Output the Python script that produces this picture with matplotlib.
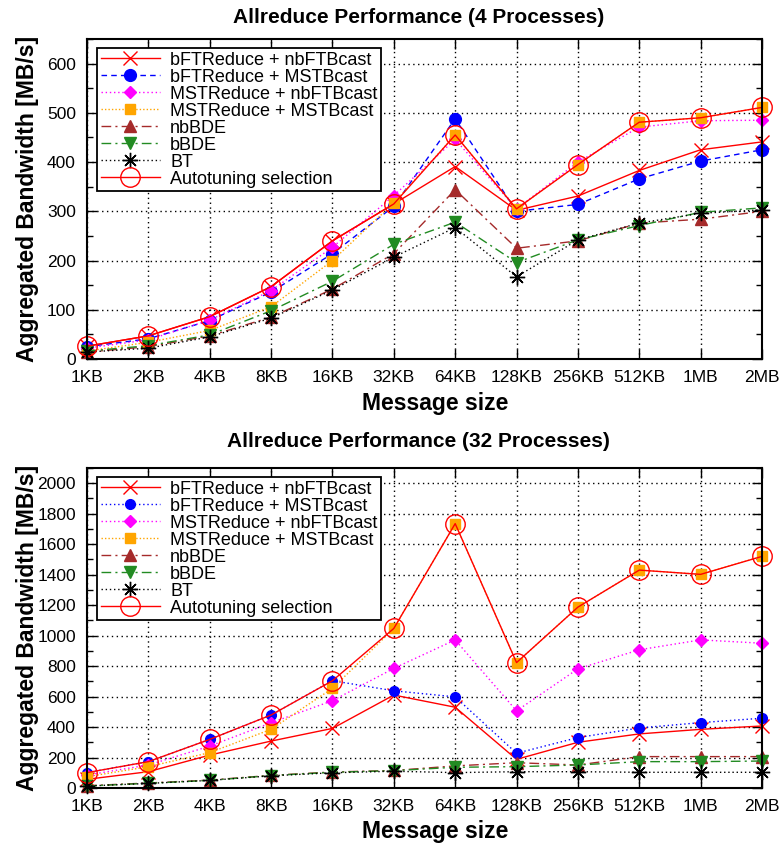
import matplotlib
matplotlib.use("Agg")
import matplotlib.pyplot as plt
from matplotlib.ticker import MultipleLocator, FixedLocator

plt.rcParams['font.family'] = ['Liberation Sans', 'DejaVu Sans']

sizes = ['1KB', '2KB', '4KB', '8KB', '16KB', '32KB', '64KB', '128KB', '256KB', '512KB', '1MB', '2MB']

# 4 processes
bft_nbft_4 = [26, 47, 86, 147, 240, 315, 391, 302, 331, 383, 425, 441]
bft_mst_4 = [25, 41, 78, 136, 214, 310, 488, 300, 314, 366, 402, 425]
mst_nbft_4 = [22, 39, 79, 139, 227, 332, 446, 305, 400, 471, 484, 485]
mst_mst_4 = [16, 34, 58, 106, 200, 317, 455, 305, 395, 481, 490, 511]
nbbde_4 = [14, 25, 47, 85, 142, 214, 344, 225, 240, 276, 284, 300]
bbde_4 = [16, 27, 49, 98, 158, 233, 278, 196, 242, 271, 298, 307]
bt_4 = [14, 22, 45, 83, 140, 207, 267, 167, 242, 276, 296, 303]
auto_4 = [26, 47, 86, 147, 240, 315, 455, 305, 395, 481, 490, 511]

# 32 processes
bft_nbft_32 = [57, 107, 216, 308, 391, 610, 530, 188, 300, 355, 385, 407]
bft_mst_32 = [101, 173, 319, 479, 704, 638, 598, 228, 331, 394, 429, 458]
mst_nbft_32 = [85, 151, 275, 428, 573, 785, 972, 506, 782, 907, 972, 950]
mst_mst_32 = [74, 140, 232, 385, 654, 1047, 1735, 823, 1187, 1430, 1402, 1520]
nbbde_32 = [15, 33, 52, 83, 105, 115, 145, 166, 151, 206, 206, 206]
bbde_32 = [13, 31, 50, 82, 103, 114, 136, 140, 151, 173, 173, 177]
bt_32 = [13, 30, 50, 80, 100, 110, 101, 107, 107, 103, 103, 103]
auto_32 = [101, 173, 319, 479, 704, 1047, 1735, 823, 1187, 1430, 1402, 1520]

labels = ['bFTReduce + nbFTBcast', 'bFTReduce + MSTBcast', 'MSTReduce + nbFTBcast',
          'MSTReduce + MSTBcast', 'nbBDE', 'bBDE', 'BT', 'Autotuning selection']

W, H = 780, 848
fig = plt.figure(figsize=(W / 100, H / 100), dpi=100)

def make_axes(top_px, bottom_px):
    return fig.add_axes([87 / W, 1 - bottom_px / H, 675 / W, (bottom_px - top_px) / H])

def draw(ax, series, blue_dash, ymax, major, minor):
    x = list(range(len(sizes)))
    styles = [
        dict(color='#ff0000', ls='-', marker='x', ms=10, mew=1.0),
        dict(color='#0000ff', dashes=blue_dash, marker='o', ms=8.5 if blue_dash[0] > 2 else 7),
        dict(color='#ff00ff', dashes=(1, 2), marker='D', ms=6.5),
        dict(color='#ffa500', dashes=(1, 1.5), marker='s', ms=7.5),
        dict(color='#a52a2a', dashes=(7, 3, 1.5, 3), marker='^', ms=8),
        dict(color='#228b22', dashes=(7, 3, 1.5, 3), marker='v', ms=8),
        dict(color='#000000', dashes=(1, 2), marker=(8, 2, 0), ms=11, mew=1.0),
        dict(color='#ff0000', ls='-', marker='o', ms=14, mfc='none', mec='#ff0000', mew=1.0),
    ]
    for vals, st, lab in zip(series, styles, labels):
        ax.plot(x, vals, lw=1.0, label=lab, clip_on=False, **st)
    ax.set_xlim(0, len(sizes) - 1)
    ax.set_ylim(0, ymax)
    ax.xaxis.set_major_locator(FixedLocator(x))
    ax.set_xticklabels(sizes)
    ax.yaxis.set_major_locator(MultipleLocator(major))
    ax.yaxis.set_minor_locator(MultipleLocator(minor))
    ax.grid(True, which='major', color='black', ls=(0, (1, 2.5)), lw=1.0)
    ax.tick_params(which='both', direction='in', top=True, right=True, width=1.0,
                   labelsize=12.5, pad=8)
    ax.tick_params(which='major', length=7)
    ax.tick_params(which='minor', length=4)
    for s in ax.spines.values():
        s.set_linewidth(1.5)
    leg = ax.legend(loc='upper left', bbox_to_anchor=(10 / 675, 1 - 9 / 320),
                    borderaxespad=0, fontsize=13, labelspacing=0.0,
                    handlelength=3.3, handletextpad=0.55, borderpad=0.2,
                    fancybox=False, framealpha=1, edgecolor='black', numpoints=1)
    leg.get_frame().set_linewidth(1.3)

ax1 = make_axes(39, 359)
draw(ax1, [bft_nbft_4, bft_mst_4, mst_nbft_4, mst_mst_4, nbbde_4, bbde_4, bt_4, auto_4],
     (4, 3), 650, 100, 50)
ax2 = make_axes(468, 788)
draw(ax2, [bft_nbft_32, bft_mst_32, mst_nbft_32, mst_mst_32, nbbde_32, bbde_32, bt_32, auto_32],
     (1, 2), 2100, 200, 100)

fig.text(419 / W, 1 - 23 / H, 'Allreduce Performance (4 Processes)', ha='center',
         va='baseline', fontsize=15, fontweight='bold')
fig.text(418 / W, 1 - 447 / H, 'Allreduce Performance (32 Processes)', ha='center',
         va='baseline', fontsize=15, fontweight='bold')
fig.text(435 / W, 1 - 410 / H, 'Message size', ha='center', va='baseline',
         fontsize=16.5, fontweight='bold')
fig.text(435 / W, 1 - 838 / H, 'Message size', ha='center', va='baseline',
         fontsize=16.5, fontweight='bold')
fig.text(28 / W, 1 - 199 / H, 'Aggregated Bandwidth [MB/s]', ha='center', va='center',
         rotation=90, fontsize=16.5, fontweight='bold')
fig.text(28 / W, 1 - 628 / H, 'Aggregated Bandwidth [MB/s]', ha='center', va='center',
         rotation=90, fontsize=16.5, fontweight='bold')

fig.savefig('out.png', dpi=100)
